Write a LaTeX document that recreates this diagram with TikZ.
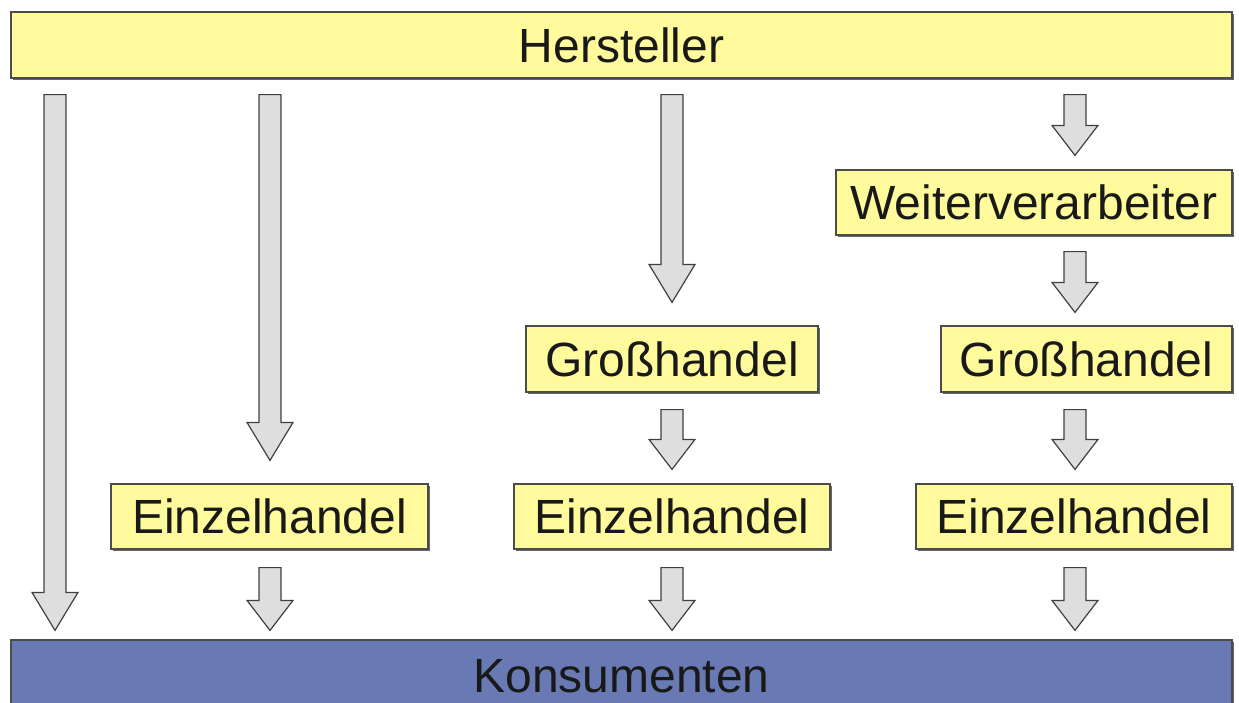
\documentclass[tikz,border=0pt]{standalone}
\usepackage{fontspec}
\setmainfont{Liberation Sans}
\usetikzlibrary{calc,shadows}
\definecolor{boxyellow}{RGB}{255,250,155}
\definecolor{boxblue}{RGB}{104,121,180}
\definecolor{arrowgray}{RGB}{222,222,222}
\tikzset{
	stufe/.style={draw=black!70, line width=1.2pt, fill=boxyellow, inner sep=0pt,
		font=\fontsize{48}{56}\selectfont, text=black!90,
		drop shadow={shadow xshift=1.5pt, shadow yshift=-1.5pt, fill=black!60, opacity=1}},
	ende/.style={stufe, fill=boxblue},
	pfeil/.style={draw=black!75, line width=1.2pt, fill=arrowgray, line join=miter},
}
\newcommand{\blockarrow}[3][38]{%
	\draw[pfeil] let \p1=(#2), \p2=(#3) in
		(\x1-11pt,\y1) -- (\x1+11pt,\y1) -- (\x1+11pt,\y2+#1pt) -- (\x1+23pt,\y2+#1pt)
		-- (\x2,\y2) -- (\x1-23pt,\y2+#1pt) -- (\x1-11pt,\y2+#1pt) -- cycle;
}

\begin{document}
\begin{tikzpicture}[x=1pt,y=-1pt]
	\useasboundingbox (0,0) rectangle (1239,702);
	\clip (0,0) rectangle (1239,702);

	% Spalten der Pfeile
	\coordinate (s1) at (55,0);
	\coordinate (s2) at (270,0);
	\coordinate (s3) at (672,0);
	\coordinate (s4) at (1075,0);

	\node[stufe, minimum width=1221pt, minimum height=66pt] (hersteller) at (621.5,45) {Hersteller};
	\node[ende, minimum width=1221pt, minimum height=72pt] (konsumenten) at (621.5,676) {Konsumenten};

	\node[stufe, minimum width=396pt, minimum height=65pt] (weiter) at (1034,202.5) {Weiterverarbeiter};
	\node[stufe, minimum width=292pt, minimum height=66pt] (gross3) at (672,359) {Großhandel};
	\node[stufe, minimum width=291pt, minimum height=66pt] (gross4) at (1086.5,359) {Großhandel};
	\node[stufe, minimum width=317pt, minimum height=65pt] (ein2) at (269.5,516.5) {Einzelhandel};
	\node[stufe, minimum width=316pt, minimum height=65pt] (ein3) at (672,516.5) {Einzelhandel};
	\node[stufe, minimum width=316pt, minimum height=65pt] (ein4) at (1074,516.5) {Einzelhandel};

	% direkt
	\blockarrow{$(hersteller.south -| s1)+(0,16)$}{$(konsumenten.north -| s1)+(0,-9)$}
	% ueber Einzelhandel
	\blockarrow{$(hersteller.south -| s2)+(0,16)$}{$(ein2.north -| s2)+(0,-23)$}
	% ueber Grosshandel
	\blockarrow{$(hersteller.south -| s3)+(0,16)$}{$(gross3.north -| s3)+(0,-23)$}
	\blockarrow[30]{$(gross3.south -| s3)+(0,17)$}{$(ein3.north -| s3)+(0,-14)$}
	% ueber Weiterverarbeiter
	\blockarrow[30]{$(hersteller.south -| s4)+(0,16)$}{$(weiter.north -| s4)+(0,-14)$}
	\blockarrow[30]{$(weiter.south -| s4)+(0,16)$}{$(gross4.north -| s4)+(0,-13)$}
	\blockarrow[30]{$(gross4.south -| s4)+(0,17)$}{$(ein4.north -| s4)+(0,-14)$}

	\foreach \i in {2,3,4}
		\blockarrow[30]{$(ein\i.south -| s\i)+(0,18)$}{$(konsumenten.north -| s\i)+(0,-9)$};
\end{tikzpicture}
\end{document}
